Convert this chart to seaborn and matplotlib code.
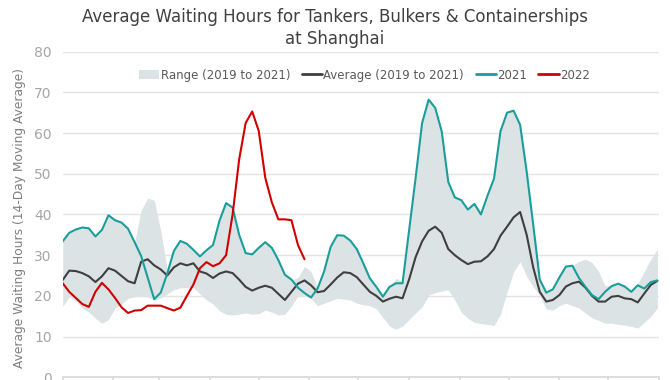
"""
Shanghai port waiting hours chart (14-day moving average), 2021 / 2022 vs 2019-2021 range.
"""
import matplotlib
matplotlib.use("Agg")
import matplotlib.pyplot as plt
import numpy as np
import pandas as pd
import seaborn as sns
from matplotlib.lines import Line2D
from matplotlib.patches import Patch

# ---------------------------------------------------------------------------
# Data (one sample every 4 days)
# ---------------------------------------------------------------------------
DAY_STEP = 4

series_2021 = [
    33.4, 35.5, 36.3, 36.8, 36.6, 34.6, 36.2, 39.8, 38.6, 38.0,
    36.5, 33.2, 29.8, 24.5, 19.2, 20.8, 25.5, 31.0, 33.5, 32.8,
    31.3, 29.7, 31.2, 32.5, 38.5, 42.8, 41.7, 35.0, 30.5, 30.2,
    31.8, 33.2, 31.8, 28.8, 25.2, 24.0, 22.0, 20.7, 19.6, 21.8,
    26.0, 32.0, 34.9, 34.8, 33.6, 31.5, 28.0, 24.3, 22.2, 19.8,
    22.2, 23.1, 23.1, 36.0, 48.9, 62.5, 68.2, 66.2, 60.4, 48.0,
    44.2, 43.5, 41.2, 42.6, 40.0, 44.6, 48.8, 60.5, 65.0, 65.5,
    62.0, 50.5, 37.5, 24.0, 20.8, 21.6, 24.5, 27.2, 27.4, 24.4,
    22.2, 20.2, 19.2, 21.0, 22.4, 23.0, 22.3, 21.0, 22.6, 21.8,
    23.4, 23.8,
]

series_avg = [
    23.9, 26.2, 26.1, 25.6, 24.8, 23.4, 24.8, 26.8, 26.2, 24.9,
    23.6, 23.1, 28.4, 29.0, 27.5, 26.5, 25.0, 27.0, 28.0, 27.5,
    28.0, 26.0, 25.5, 24.4, 25.5, 26.0, 25.6, 24.0, 22.2, 21.3,
    22.0, 22.5, 22.0, 20.5, 19.0, 21.0, 23.0, 23.8, 22.6, 20.9,
    21.2, 22.8, 24.5, 25.8, 25.6, 24.6, 22.8, 21.0, 20.0, 18.6,
    19.3, 19.8, 19.4, 24.0, 29.5, 33.4, 36.0, 37.0, 35.5, 31.5,
    30.0, 28.8, 27.8, 28.4, 28.5, 29.7, 31.5, 34.8, 37.0, 39.3,
    40.6, 35.0, 27.0, 21.0, 18.6, 19.0, 20.2, 22.3, 23.1, 23.5,
    22.0, 20.0, 18.6, 18.6, 19.8, 20.0, 19.4, 19.2, 18.4, 20.6,
    22.7, 23.7,
]

series_2022 = [
    23.1, 21.0, 19.5, 18.0, 17.3, 21.0, 23.2, 21.6, 19.5, 17.2,
    15.8, 16.4, 16.5, 17.6, 17.6, 17.6, 17.0, 16.4, 17.1, 20.0,
    22.8, 26.8, 28.3, 27.3, 28.0, 30.0, 40.0, 53.5, 62.5, 65.3,
    60.5, 49.0, 43.0, 38.8, 38.8, 38.6, 32.5, 29.0,
]

range_high = [
    33.4, 35.5, 36.3, 36.8, 36.6, 34.6, 36.2, 39.8, 38.6, 38.0,
    36.5, 33.2, 41.0, 44.0, 43.5, 36.0, 26.5, 31.0, 33.5, 32.8,
    31.3, 29.7, 31.2, 32.5, 38.5, 42.8, 41.7, 35.0, 30.5, 30.2,
    31.8, 33.2, 31.8, 28.8, 25.2, 24.0, 24.5, 27.2, 26.0, 22.0,
    26.0, 32.0, 34.9, 34.8, 33.6, 31.5, 28.0, 24.3, 22.2, 19.8,
    22.2, 24.3, 23.5, 36.0, 48.9, 62.5, 68.2, 66.2, 60.4, 48.0,
    44.2, 43.5, 41.2, 42.6, 40.0, 44.6, 48.8, 60.5, 65.0, 65.5,
    62.0, 50.5, 37.5, 24.0, 20.8, 21.6, 24.5, 27.2, 27.4, 28.5,
    29.0, 28.2, 26.0, 22.5, 22.4, 23.0, 22.3, 21.0, 23.0, 26.0,
    29.0, 31.5,
]

range_low = [
    17.4, 19.8, 18.8, 17.0, 16.0, 14.5, 13.3, 14.2, 17.0, 18.0,
    19.4, 19.8, 20.0, 19.8, 19.0, 19.5, 20.5, 21.5, 22.0, 22.0,
    22.0, 20.5, 19.0, 18.0, 16.3, 15.5, 15.3, 15.5, 15.8, 15.5,
    15.6, 16.5, 16.0, 15.3, 15.5, 17.5, 20.0, 20.2, 19.4, 17.6,
    18.2, 18.8, 19.4, 19.2, 19.0, 18.2, 17.8, 17.6, 16.8, 14.7,
    12.6, 11.8, 12.6, 14.2, 15.8, 17.3, 20.2, 20.8, 21.2, 21.5,
    19.0, 16.0, 14.5, 13.5, 13.2, 13.0, 12.7, 15.5, 21.0, 26.0,
    28.4, 24.8, 22.3, 20.0, 16.8, 16.5, 17.6, 18.2, 17.6, 17.0,
    15.8, 14.6, 14.0, 13.3, 13.3, 13.0, 12.8, 12.5, 12.1, 13.5,
    15.0, 17.0,
]

MONTH_STARTS = [0, 31, 59, 90, 120, 151, 181, 212, 243, 273, 304, 334, 365]

TITLE = "Average Waiting Hours for Tankers, Bulkers & Containerships\nat Shanghai"
YLABEL = "Average Waiting Hours (14-Day Moving Average)"

COLORS = {
    "range": "#dce3e5",
    "avg": "#3f3f3f",
    "2021": "#1a9e9b",
    "2022": "#d00000",
}

# ---------------------------------------------------------------------------
# Plot
# ---------------------------------------------------------------------------
sns.set_theme(style="white")
plt.rcParams["font.family"] = ["DejaVu Sans"]

days = np.arange(len(series_2021)) * DAY_STEP
df = pd.DataFrame({
    "day": days,
    "y2021": series_2021,
    "avg": series_avg,
    "low": range_low,
    "high": range_high,
})
df22 = pd.DataFrame({"day": days[:len(series_2022)], "y2022": series_2022})

fig = plt.figure(figsize=(6.7, 3.8), dpi=100)
ax = fig.add_axes([0.0936, 0.0071, 0.89, 0.857])

ax.fill_between(df["day"], df["low"], df["high"], color=COLORS["range"], linewidth=0)
sns.lineplot(data=df, x="day", y="avg", ax=ax, color=COLORS["avg"], linewidth=1.5)
sns.lineplot(data=df, x="day", y="y2021", ax=ax, color=COLORS["2021"], linewidth=1.5)
sns.lineplot(data=df22, x="day", y="y2022", ax=ax, color=COLORS["2022"], linewidth=1.5)

ax.set_xlim(0, 365)
ax.set_ylim(0, 80)
ax.set_yticks(np.arange(0, 81, 10))
ax.set_xticks(MONTH_STARTS)
ax.set_xticklabels([])
ax.grid(axis="y", color="#e3e3e3", linewidth=1.0)
ax.set_axisbelow(True)
for side in ("top", "right", "left"):
    ax.spines[side].set_visible(False)
ax.spines["bottom"].set_color("#d9d9d9")
ax.tick_params(axis="x", direction="out", length=3, color="#d9d9d9", bottom=True)
ax.tick_params(axis="y", length=0, labelsize=10, labelcolor="#a6a6a6", pad=8)
ax.set_xlabel("")
ax.set_ylabel(YLABEL, fontsize=8.8, color="#7f7f7f", labelpad=4)
ax.yaxis.set_label_coords(-0.062, 0.49)

fig.suptitle(TITLE, fontsize=12, color="#404040", y=0.98, linespacing=1.35)

handles = [
    Patch(facecolor=COLORS["range"], edgecolor="none", label="Range (2019 to 2021)"),
    Line2D([0], [0], color=COLORS["avg"], linewidth=2, label="Average (2019 to 2021)"),
    Line2D([0], [0], color=COLORS["2021"], linewidth=2, label="2021"),
    Line2D([0], [0], color=COLORS["2022"], linewidth=2, label="2022"),
]
leg = ax.legend(
    handles=handles, loc="center", bbox_to_anchor=(0.506, 0.928), ncol=4,
    frameon=False, fontsize=8.5, handlelength=1.7, handleheight=0.9,
    handletextpad=0.1, columnspacing=1.0, borderaxespad=0,
)
for t in leg.get_texts():
    t.set_color("#595959")

fig.savefig("out.png", dpi=100)
